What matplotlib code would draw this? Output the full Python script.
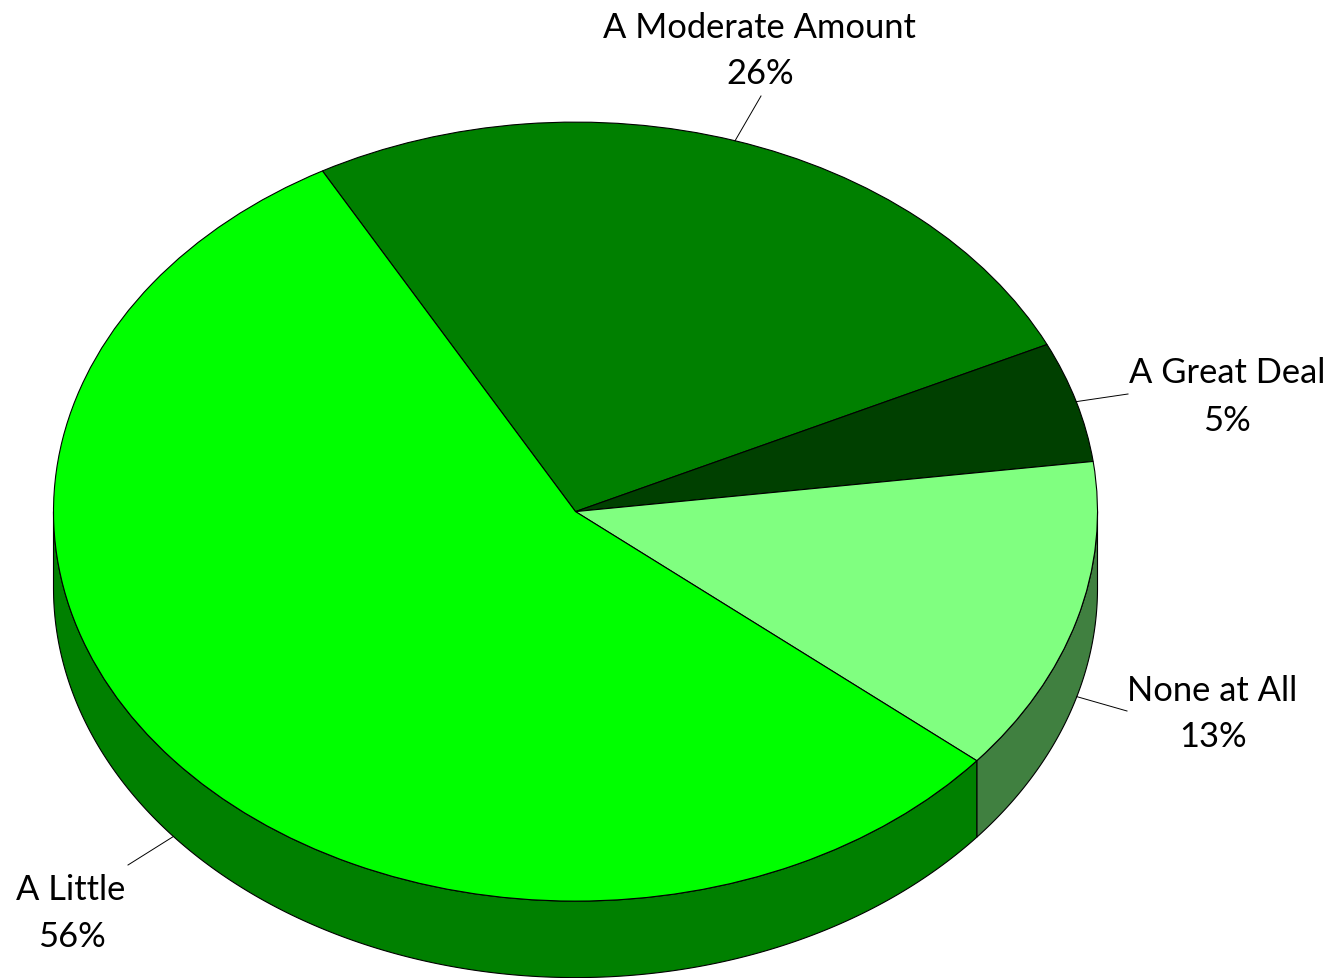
import numpy as np
import matplotlib
matplotlib.use("Agg")
import matplotlib.pyplot as plt
from matplotlib.patches import Polygon

categories = ["A Moderate Amount", "A Great Deal", "None at All", "A Little"]
values = [26.0, 5.0, 13.1, 55.9]
top_colors = ["#008000", "#004000", "#80FF80", "#00FF00"]
side_colors = ["#004000", "#002000", "#408040", "#008000"]

W, H = 1334, 979
DY = 2.0
CX, CY, RX, RY, DEPTH = 575.5, 512.6, 522.0, 389.5, 76.5
START = -29.0  # clockwise from 12 o'clock
YS = RX / RY   # vertical stretch of data units: the round pie looks flattened

LABEL_POS = {
    "A Moderate Amount": (759, 26, 760, 72, 761, 95),
    "A Great Deal": (1227, 371, 1227, 419, 1128, 393),
    "None at All": (1212, 689, 1213, 735, 1127, 710),
    "A Little": (71, 888, 72, 935, 128, 864),
}

plt.rcParams["font.family"] = ["Lato", "DejaVu Sans"]
fig = plt.figure(figsize=(W / 100, H / 100), dpi=100)
ax = fig.add_axes([0, 0, 1, 1])


def py(y):
    return (H - np.asarray(y, dtype=float)) * YS


def rim(a_deg, drop=0.0):
    a = np.radians(a_deg)
    return CX + RX * np.sin(a), py(CY - RY * np.cos(a) + drop)


edges = START + np.cumsum([0] + values) * 360.0 / sum(values)

# side wall, only on the front half (90..270 degrees clockwise from the top)
for i in range(len(values)):
    a0, a1 = max(edges[i], 90.0), min(edges[i + 1], 270.0)
    if a1 <= a0:
        continue
    t = np.linspace(a0, a1, 200)
    xt, yt = rim(t)
    xb, yb = rim(t, DEPTH)
    pts = np.column_stack([np.r_[xt, xb[::-1]], np.r_[yt, yb[::-1]]])
    ax.add_patch(Polygon(pts, closed=True, facecolor=side_colors[i],
                         edgecolor="black", linewidth=0.8, zorder=1))

# top face
ax.pie(values, colors=top_colors, startangle=90 - START, counterclock=False,
       radius=RX, center=(CX, float(py(CY))),
       wedgeprops=dict(edgecolor="black", linewidth=0.8, zorder=2))
ax.set_aspect("auto")
ax.set_xlim(0, W)
ax.set_ylim(0, H * YS)
ax.axis("off")

# labels and leader lines
for i, name in enumerate(categories):
    mid = 0.5 * (edges[i] + edges[i + 1])
    drop = DEPTH if np.cos(np.radians(mid)) < 0 else 0.0
    x0, y0 = rim(mid, drop)
    nx, ny, vx, vy, lx, ly = LABEL_POS[name]
    ax.plot([x0, lx], [y0, py(ly + DY)], color="black", lw=0.7, zorder=3)
    ax.text(nx, py(ny + DY), name, ha="center", va="center", fontsize=24.8, color="black")
    ax.text(vx, py(vy + DY), f"{values[i]:.0f}%", ha="center", va="center", fontsize=24.8, color="black")

fig.savefig("out.png", dpi=100, facecolor="white")
